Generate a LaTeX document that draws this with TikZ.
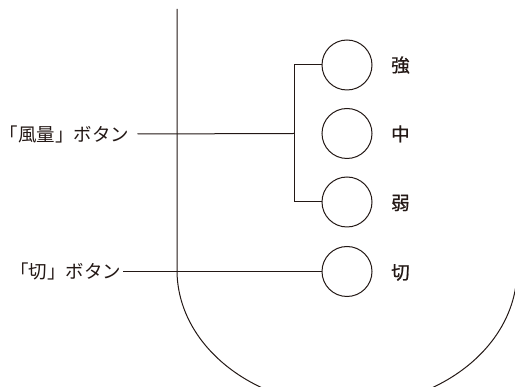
\documentclass[tikz,border=0pt]{standalone}
\usepackage{fontspec}
\newfontfamily\jp{Noto Sans CJK JP}
\newfontfamily\jpm[FakeBold=0.8]{Noto Sans CJK JP}
\definecolor{ink}{HTML}{231815}
\begin{document}
\begin{tikzpicture}[x=1pt,y=-1pt,
  line/.style={draw=ink, line width=1pt},
  btn/.style={circle, draw=ink, line width=1pt, minimum size=50pt, inner sep=0pt},
  lbl/.style={text=ink, font=\jp\fontsize{18.5}{20}\selectfont, inner sep=0pt, anchor=east},
  lvl/.style={text=ink, font=\jpm\fontsize{18.5}{20}\selectfont, inner sep=0pt, anchor=west}]
\useasboundingbox (0,0) rectangle (515,387);
\clip (0,0) rectangle (515,387);
% body outline
\coordinate (top) at (177,9);
\coordinate (bend) at (177,270);
\draw[line] (top) -- (bend) arc[start angle=180, end angle=0, x radius=170, y radius=136];
% buttons
\node[btn] (c1) at (347,65) {};
\node[btn] (c2) at (347,133.5) {};
\node[btn] (c3) at (347,202) {};
\node[btn] (c4) at (347,271.5) {};
% level labels
\node[lvl] (l1) at (391,65) {強};
\node[lvl] (l2) at (391,134) {中};
\node[lvl] (l3) at (391,203) {弱};
\node[lvl] (l4) at (391,272.5) {切};
% left labels
\node[lbl] (fl) at (129.5,134) {「風量」ボタン};
\node[lbl] (kb) at (121.5,271.5) {「切」ボタン};
% bracket
\coordinate (b1) at (294,65);
\coordinate (bm) at (294,133.5);
\coordinate (b3) at (294,202);
\draw[line] (c1.west) -- (b1) -- (b3) -- (c3.west);
\draw[line] ([xshift=8pt]fl.east) -- (bm);
\draw[line] ([xshift=1.5pt]kb.east) -- (c4.west);
\end{tikzpicture}
\end{document}
